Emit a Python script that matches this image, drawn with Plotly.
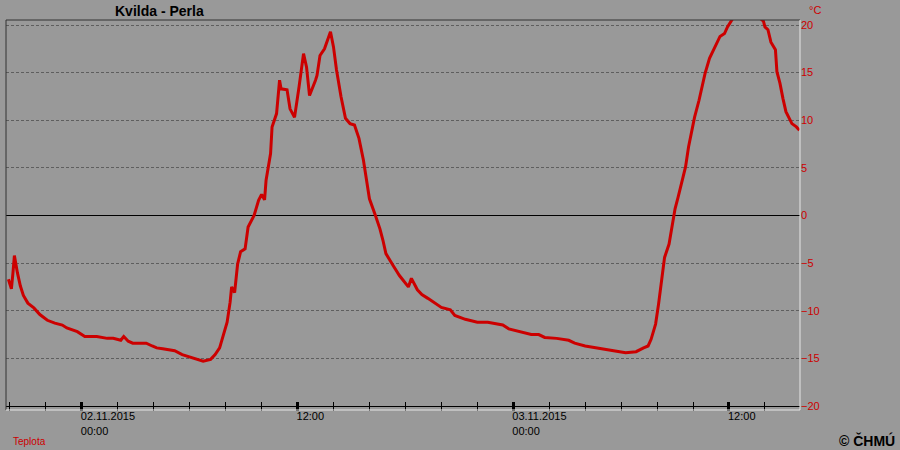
import plotly.graph_objects as go

# ---- data ----
times = [
    "2015-11-01 19:55", "2015-11-01 20:05", "2015-11-01 20:10", "2015-11-01 20:15",
    "2015-11-01 20:25", "2015-11-01 20:35", "2015-11-01 20:45", "2015-11-01 21:00",
    "2015-11-01 21:20", "2015-11-01 21:40", "2015-11-01 22:05", "2015-11-01 22:30",
    "2015-11-01 22:55", "2015-11-01 23:10", "2015-11-01 23:45", "2015-11-02 00:10",
    "2015-11-02 00:50", "2015-11-02 01:25", "2015-11-02 01:45", "2015-11-02 02:10",
    "2015-11-02 02:20", "2015-11-02 02:35", "2015-11-02 02:50", "2015-11-02 03:35",
    "2015-11-02 03:55", "2015-11-02 04:10", "2015-11-02 04:30", "2015-11-02 05:10",
    "2015-11-02 05:35", "2015-11-02 06:05", "2015-11-02 06:35", "2015-11-02 06:45",
    "2015-11-02 07:10", "2015-11-02 07:25", "2015-11-02 07:40", "2015-11-02 07:50",
    "2015-11-02 08:05", "2015-11-02 08:15", "2015-11-02 08:20", "2015-11-02 08:30",
    "2015-11-02 08:40", "2015-11-02 08:50", "2015-11-02 09:05", "2015-11-02 09:15",
    "2015-11-02 09:35", "2015-11-02 09:50", "2015-11-02 10:00", "2015-11-02 10:10",
    "2015-11-02 10:15", "2015-11-02 10:30", "2015-11-02 10:35", "2015-11-02 10:50",
    "2015-11-02 11:00", "2015-11-02 11:05", "2015-11-02 11:25", "2015-11-02 11:35",
    "2015-11-02 11:50", "2015-11-02 12:05", "2015-11-02 12:20", "2015-11-02 12:30",
    "2015-11-02 12:40", "2015-11-02 13:00", "2015-11-02 13:05", "2015-11-02 13:15",
    "2015-11-02 13:30", "2015-11-02 13:50", "2015-11-02 14:00", "2015-11-02 14:10",
    "2015-11-02 14:25", "2015-11-02 14:40", "2015-11-02 14:55", "2015-11-02 15:10",
    "2015-11-02 15:25", "2015-11-02 15:40", "2015-11-02 15:50", "2015-11-02 16:00",
    "2015-11-02 16:20", "2015-11-02 16:35", "2015-11-02 16:45", "2015-11-02 16:55",
    "2015-11-02 17:20", "2015-11-02 17:40", "2015-11-02 18:10", "2015-11-02 18:20",
    "2015-11-02 18:40", "2015-11-02 18:55", "2015-11-02 19:15", "2015-11-02 19:35",
    "2015-11-02 20:00", "2015-11-02 20:30", "2015-11-02 20:45", "2015-11-02 21:20",
    "2015-11-02 22:00", "2015-11-02 22:35", "2015-11-02 23:05", "2015-11-02 23:25",
    "2015-11-02 23:45", "2015-11-03 00:10", "2015-11-03 00:35", "2015-11-03 01:00",
    "2015-11-03 01:25", "2015-11-03 01:45", "2015-11-03 02:25", "2015-11-03 03:05",
    "2015-11-03 03:25", "2015-11-03 04:00", "2015-11-03 04:40", "2015-11-03 05:10",
    "2015-11-03 05:35", "2015-11-03 06:15", "2015-11-03 06:50", "2015-11-03 07:15",
    "2015-11-03 07:30", "2015-11-03 07:40", "2015-11-03 07:55", "2015-11-03 08:05",
    "2015-11-03 08:15", "2015-11-03 08:25", "2015-11-03 08:40", "2015-11-03 08:50",
    "2015-11-03 09:00", "2015-11-03 09:10", "2015-11-03 09:20", "2015-11-03 09:35",
    "2015-11-03 09:45", "2015-11-03 09:55", "2015-11-03 10:05", "2015-11-03 10:20",
    "2015-11-03 10:30", "2015-11-03 10:40", "2015-11-03 10:55", "2015-11-03 11:15",
    "2015-11-03 11:30", "2015-11-03 11:45", "2015-11-03 11:55", "2015-11-03 12:15",
    "2015-11-03 12:30", "2015-11-03 12:50", "2015-11-03 13:10", "2015-11-03 13:30",
    "2015-11-03 13:55", "2015-11-03 14:00", "2015-11-03 14:10", "2015-11-03 14:20",
    "2015-11-03 14:35", "2015-11-03 14:40", "2015-11-03 14:50", "2015-11-03 15:00",
    "2015-11-03 15:10", "2015-11-03 15:30", "2015-11-03 15:45", "2015-11-03 15:55",
]
teplota = [
    -6.7, -7.7, -6.1, -4.2,
    -6.0, -7.4, -8.4, -9.2,
    -9.7, -10.4, -11.0, -11.3,
    -11.5, -11.8, -12.2, -12.7,
    -12.7, -12.9, -12.9, -13.1,
    -12.7, -13.2, -13.4, -13.4,
    -13.7, -13.9, -14.0, -14.2,
    -14.6, -14.9, -15.2, -15.3,
    -15.1, -14.6, -13.9, -12.8,
    -11.2, -9.1, -7.5, -8.1,
    -5.1, -3.8, -3.5, -1.2,
    0.0, 1.6, 2.2, 1.65,
    3.7, 6.5, 9.3, 10.7,
    14.2, 13.3, 13.2, 11.2,
    10.3, 13.5, 17.0, 15.6,
    12.6, 14.2, 14.7, 16.8,
    17.5, 19.3, 17.7, 15.3,
    12.5, 10.2, 9.65, 9.5,
    8.1, 5.8, 3.7, 1.75,
    0.0, -1.4, -2.6, -4.0,
    -5.3, -6.3, -7.5, -6.6,
    -7.8, -8.3, -8.7, -9.1,
    -9.65, -9.9, -10.5, -10.9,
    -11.2, -11.2, -11.4, -11.5,
    -11.9, -12.1, -12.3, -12.5,
    -12.5, -12.8, -12.9, -13.1,
    -13.4, -13.7, -13.9, -14.1,
    -14.2, -14.4, -14.3, -13.9,
    -13.7, -13.0, -11.4, -9.3,
    -6.8, -4.4, -3.0, -1.2,
    0.7, 1.9, 3.3, 5.1,
    7.2, 8.9, 10.3, 12.1,
    13.5, 14.9, 16.5, 17.9,
    18.8, 19.1, 19.8, 20.8,
    21.4, 21.9, 21.7, 21.1,
    20.4, 19.8, 19.5, 18.2,
    17.4, 15.1, 13.9, 12.3,
    10.9, 9.65, 9.3, 8.95,
]

major_ticks = ["2015-11-02 00:00", "2015-11-02 12:00", "2015-11-03 00:00", "2015-11-03 12:00"]
major_labels = ["02.11.2015<br>00:00", "12:00", "03.11.2015<br>00:00", "12:00"]
y_ticks = [-20, -15, -10, -5, 0, 5, 10, 15, 20]
x_range = ["2015-11-01 19:47", "2015-11-03 15:57"]
y_range = [-20, 20.526]

BG = "#999999"
RED = "#cc0000"
FONT = "Liberation Sans"
TWO_H = 2 * 3600 * 1000

fig = go.Figure()
fig.add_trace(go.Scatter(x=times, y=teplota, mode="lines",
                         line=dict(color=RED, width=3), hoverinfo="skip",
                         showlegend=False))
# helper trace so the overlay x axis (inner tick halves) gets drawn
fig.add_trace(go.Scatter(x=x_range, y=[None, None], xaxis="x2", mode="lines",
                         showlegend=False, hoverinfo="skip"))

common_x = dict(range=x_range, type="date", showgrid=False, zeroline=False)

fig.update_layout(
    width=900, height=450,
    margin=dict(l=6, r=100, t=20, b=44),
    paper_bgcolor=BG, plot_bgcolor=BG,
    font=dict(family=FONT, size=11, color="black"),
    xaxis=dict(
        **common_x,
        showline=True, linecolor="black", linewidth=1,
        tickmode="array", tickvals=major_ticks, ticktext=major_labels,
        ticks="outside", ticklen=4, tickwidth=3, tickcolor="black",
        ticklabelposition="outside right", ticklabelshift=-3, ticklabelstandoff=0,
        tickfont=dict(family=FONT, size=11, color="black"),
        minor=dict(tickmode="linear", tick0="2015-11-01 20:00", dtick=TWO_H,
                   ticks="outside", ticklen=4, tickwidth=1, tickcolor="black",
                   showgrid=False),
    ),
    xaxis2=dict(
        **common_x,
        overlaying="x", matches="x", anchor="y", side="bottom",
        showline=False, showticklabels=False,
        tickmode="array", tickvals=major_ticks,
        ticks="inside", ticklen=4, tickwidth=3, tickcolor="black",
        minor=dict(tickmode="linear", tick0="2015-11-01 20:00", dtick=TWO_H,
                   ticks="inside", ticklen=4, tickwidth=1, tickcolor="black",
                   showgrid=False),
    ),
    yaxis=dict(
        range=y_range, side="right",
        tickmode="array", tickvals=y_ticks,
        ticks="", showline=False,
        tickfont=dict(family=FONT, size=11, color=RED),
        showgrid=True, gridcolor="#5e5e5e", gridwidth=1, griddash="3px,2px",
        zeroline=True, zerolinecolor="black", zerolinewidth=1,
    ),
    showlegend=False,
)

# frame (dark top/left, light bottom/right)
y_bot = -4 / 386
fig.add_shape(type="line", xref="paper", yref="paper", x0=0, x1=1, y0=1, y1=1,
              line=dict(color="#333333", width=1))
fig.add_shape(type="line", xref="paper", yref="paper", x0=0, x1=0, y0=y_bot, y1=1,
              line=dict(color="#333333", width=1))
fig.add_shape(type="line", xref="paper", yref="paper", x0=1, x1=1, y0=y_bot, y1=1,
              line=dict(color="#e6e6e6", width=1))
fig.add_shape(type="line", xref="paper", yref="paper", x0=0, x1=1, y0=y_bot, y1=y_bot,
              line=dict(color="#e6e6e6", width=1))

def px(xp):
    return (xp - 6) / 794

def py(yp):
    return (406 - yp) / 386

fig.add_annotation(text="<b>Kvilda - Perla</b>", xref="paper", yref="paper",
                   x=px(159), y=py(11), xanchor="center", yanchor="middle",
                   showarrow=False, font=dict(family=FONT, size=14, color="black"))
fig.add_annotation(text="°C", xref="paper", yref="paper",
                   x=px(807), y=py(10), xanchor="left", yanchor="middle",
                   showarrow=False, font=dict(family=FONT, size=11, color=RED))
fig.add_annotation(text="Teplota", xref="paper", yref="paper",
                   x=px(11), y=py(441), xanchor="left", yanchor="middle",
                   showarrow=False, font=dict(family=FONT, size=10, color=RED))
fig.add_annotation(text="<b>© ČHMÚ</b>", xref="paper", yref="paper",
                   x=px(897), y=py(440), xanchor="right", yanchor="middle",
                   showarrow=False, font=dict(family=FONT, size=14, color="black"))

fig.write_html(
    "out.html",
    config={"displayModeBar": False},
    post_script="document.body.style.margin='0';document.body.style.overflow='hidden';",
)
